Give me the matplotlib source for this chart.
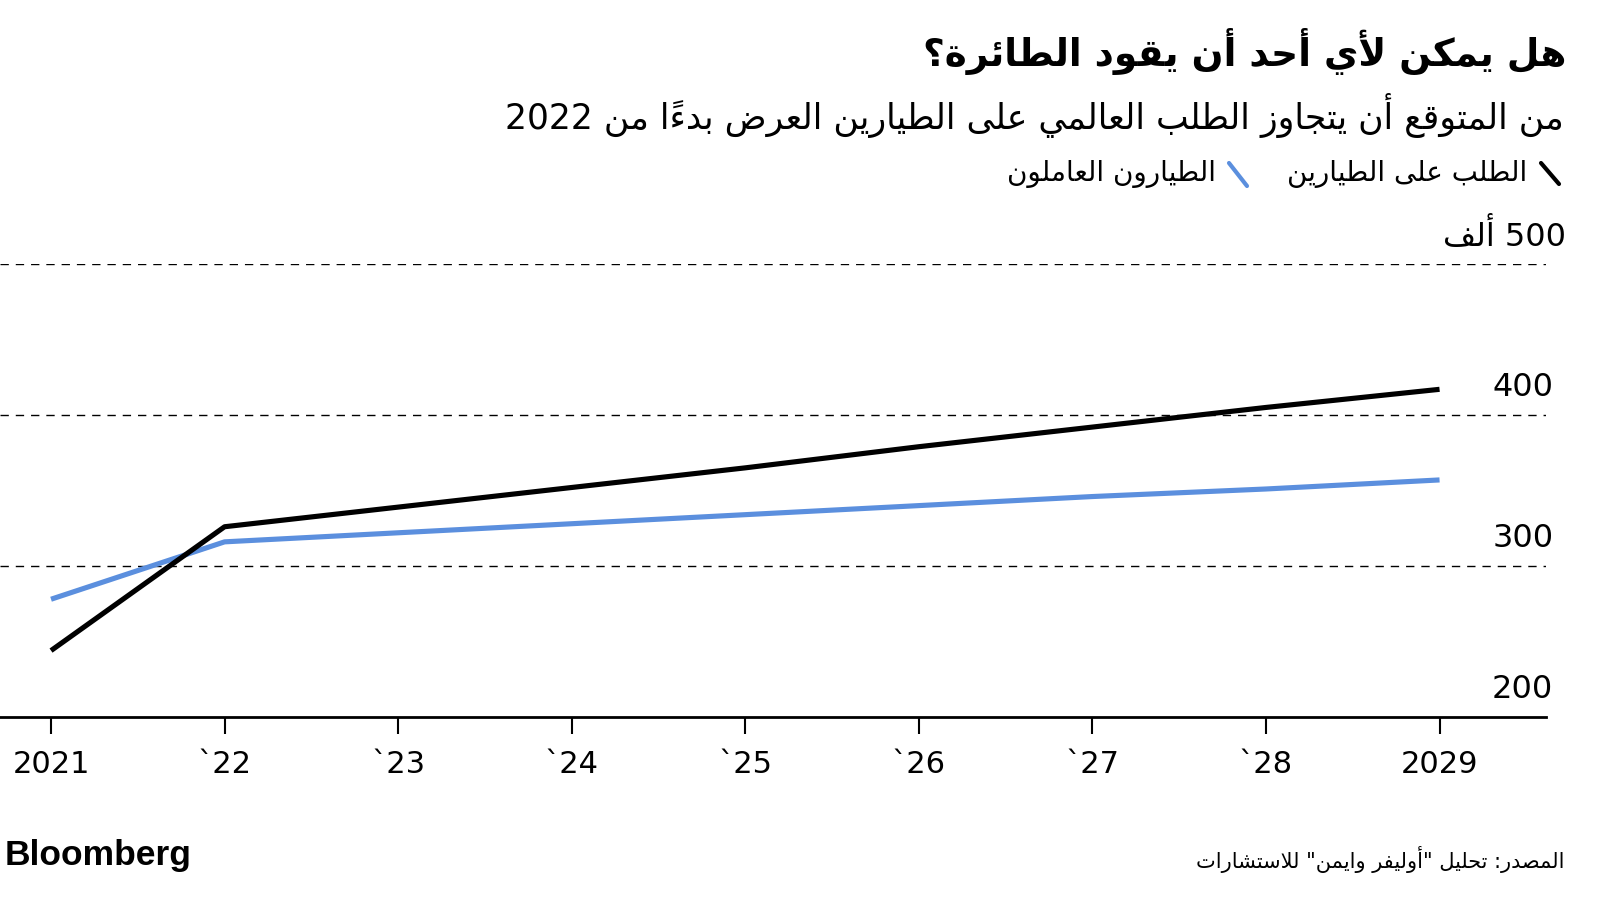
import matplotlib
matplotlib.use("Agg")
import matplotlib.pyplot as plt
from matplotlib.lines import Line2D
import matplotlib.transforms as mtransforms

# --- data (thousands of pilots) ---
years = [2021, 2022, 2023, 2024, 2025, 2026, 2027, 2028, 2029]
year_labels = ["2021", "`22", "`23", "`24", "`25", "`26", "`27", "`28", "2029"]
demand = [244, 326, 339, 352, 365, 379, 392, 405, 417]
supply = [278, 316, 322, 328, 334, 340, 346, 351, 357]
y_ticks = [200, 300, 400, 500]
y_labels = ["200", "300", "400", "500 ألف"]

title = "هل يُمكن لأي أحد أن يقود الطائرة؟"
subtitle = "من المتوقع أن يتجاوز الطلب العالمي على الطيارين العرض بدءاً من 2022"
legend_demand = "الطلب على الطيارين"
legend_supply = "الطيارون العاملون"
source = 'المصدر: تحليل "أوليفر وايمن" للاستشارات'

BLACK = "#000000"
BLUE = "#5b8fde"


# --- minimal arabic shaping + rtl ordering (matplotlib has none) ---
def _dual(b):
    return (b, b + 1, b + 2, b + 3)


def _right(b):
    return (b, b + 1, None, None)


FORMS = {
    "ء": (0xFE80, None, None, None),
    "آ": _right(0xFE81), "أ": _right(0xFE83), "ؤ": _right(0xFE85),
    "إ": _right(0xFE87), "ئ": _dual(0xFE89), "ا": _right(0xFE8D),
    "ب": _dual(0xFE8F), "ة": _right(0xFE93), "ت": _dual(0xFE95),
    "ث": _dual(0xFE99), "ج": _dual(0xFE9D), "ح": _dual(0xFEA1),
    "خ": _dual(0xFEA5), "د": _right(0xFEA9), "ذ": _right(0xFEAB),
    "ر": _right(0xFEAD), "ز": _right(0xFEAF), "س": _dual(0xFEB1),
    "ش": _dual(0xFEB5), "ص": _dual(0xFEB9), "ض": _dual(0xFEBD),
    "ط": _dual(0xFEC1), "ظ": _dual(0xFEC5), "ع": _dual(0xFEC9),
    "غ": _dual(0xFECD), "ف": _dual(0xFED1), "ق": _dual(0xFED5),
    "ك": _dual(0xFED9), "ل": _dual(0xFEDD), "م": _dual(0xFEE1),
    "ن": _dual(0xFEE5), "ه": _dual(0xFEE9), "و": _right(0xFEED),
    "ى": _right(0xFEEF), "ي": _dual(0xFEF1),
}
LAM_ALEF = {"آ": (0xFEF5, 0xFEF6), "أ": (0xFEF7, 0xFEF8),
            "إ": (0xFEF9, 0xFEFA), "ا": (0xFEFB, 0xFEFC)}
HARAKAT = set(chr(c) for c in range(0x064B, 0x0653))


def ar(s, marks=True):
    if not marks:
        s = "".join(c for c in s if c not in HARAKAT)
    n = len(s)
    clusters = []
    prev_dual = False
    i = 0
    while i < n:
        c = s[i]
        if c not in FORMS:
            clusters.append(c)
            prev_dual = False
            i += 1
            continue
        k = i + 1
        while k < n and s[k] in HARAKAT:
            k += 1
        nxt = s[k] if k < n else None
        if c == "ل" and nxt in LAM_ALEF:
            iso, fin = LAM_ALEF[nxt]
            m = k + 1
            while m < n and s[m] in HARAKAT:
                m += 1
            clusters.append(chr(fin if prev_dual else iso) + s[i + 1:k] + s[k + 1:m])
            prev_dual = False
            i = m
            continue
        f = FORMS[c]
        join_prev = prev_dual and f[1] is not None
        join_next = f[2] is not None and nxt in FORMS and FORMS[nxt][1] is not None
        if join_prev and join_next:
            g = f[3]
        elif join_prev:
            g = f[1]
        elif join_next:
            g = f[2]
        else:
            g = f[0]
        clusters.append(chr(g) + s[i + 1:k])
        prev_dual = f[2] is not None
        i = k
    # rtl paragraph: latin/digit runs keep their order
    tokens = []
    for cl in clusters:
        if cl.isascii() and cl.isalnum() and tokens and tokens[-1].isascii() and tokens[-1].isalnum():
            tokens[-1] += cl
        else:
            tokens.append(cl)
    return "".join(reversed(tokens))


AR_FONT = ["DejaVu Sans"]
NUM_FONT = ["DejaVu Sans"]

fig = plt.figure(figsize=(16, 9), dpi=100)
ax = fig.add_axes([0.0, 0.2033, 0.966, 0.5034])

ax.plot(years, supply, color=BLUE, lw=3.7, solid_capstyle="butt", zorder=3)
ax.plot(years, demand, color=BLACK, lw=3.7, solid_capstyle="butt", zorder=4)

ax.set_xlim(2020.706, 2029.611)
ax.set_ylim(200, 500)

for v in y_ticks[1:]:
    ax.axhline(v, color=BLACK, lw=1.0, ls=(0, (6, 5)), zorder=1)

for s in ["top", "right", "left"]:
    ax.spines[s].set_visible(False)
ax.spines["bottom"].set_linewidth(2)
ax.spines["bottom"].set_color(BLACK)

ax.set_yticks([])
ax.set_xticks(years)
ax.set_xticklabels(year_labels, fontfamily=NUM_FONT, fontsize=22)
ax.tick_params(axis="x", direction="out", length=12, width=1.5, color=BLACK, pad=12)

trans = mtransforms.blended_transform_factory(ax.transAxes, ax.transData)
for v, lab in zip(y_ticks, y_labels):
    xr = 1.013 if "ألف" in lab else 1.005
    ax.annotate(ar(lab), xy=(xr, v), xycoords=trans, xytext=(0, 20),
                textcoords="offset points", ha="right", va="center",
                fontsize=23, fontfamily=NUM_FONT, annotation_clip=False)

# titles
fig.text(0.979, 0.943, ar(title, marks=False), ha="right", va="center", fontsize=27,
         fontweight="bold", fontfamily=AR_FONT)
fig.text(0.9775, 0.872, ar(subtitle), ha="right", va="center", fontsize=24.9,
         fontfamily=AR_FONT)

# legend
fig.add_artist(Line2D([1541 / 1600, 1559 / 1600], [1 - 163 / 900, 1 - 184 / 900],
                      color=BLACK, lw=3, solid_capstyle="round"))
fig.text(0.9548, 0.807, ar(legend_demand), ha="right", va="center",
         fontsize=20, fontfamily=AR_FONT)
fig.add_artist(Line2D([1229 / 1600, 1247 / 1600], [1 - 163 / 900, 1 - 186 / 900],
                      color=BLUE, lw=3, solid_capstyle="round"))
fig.text(0.760, 0.807, ar(legend_supply), ha="right", va="center",
         fontsize=20, fontfamily=AR_FONT)

# footer
fig.text(0.003, 0.05, "Bloomberg", ha="left", va="center", fontsize=25.5,
         fontweight="bold", fontfamily=["Liberation Sans", "DejaVu Sans"])
fig.text(0.9775, 0.0455, ar(source), ha="right", va="center", fontsize=15,
         fontfamily=AR_FONT)

fig.savefig("out.png", dpi=100, facecolor="white")
